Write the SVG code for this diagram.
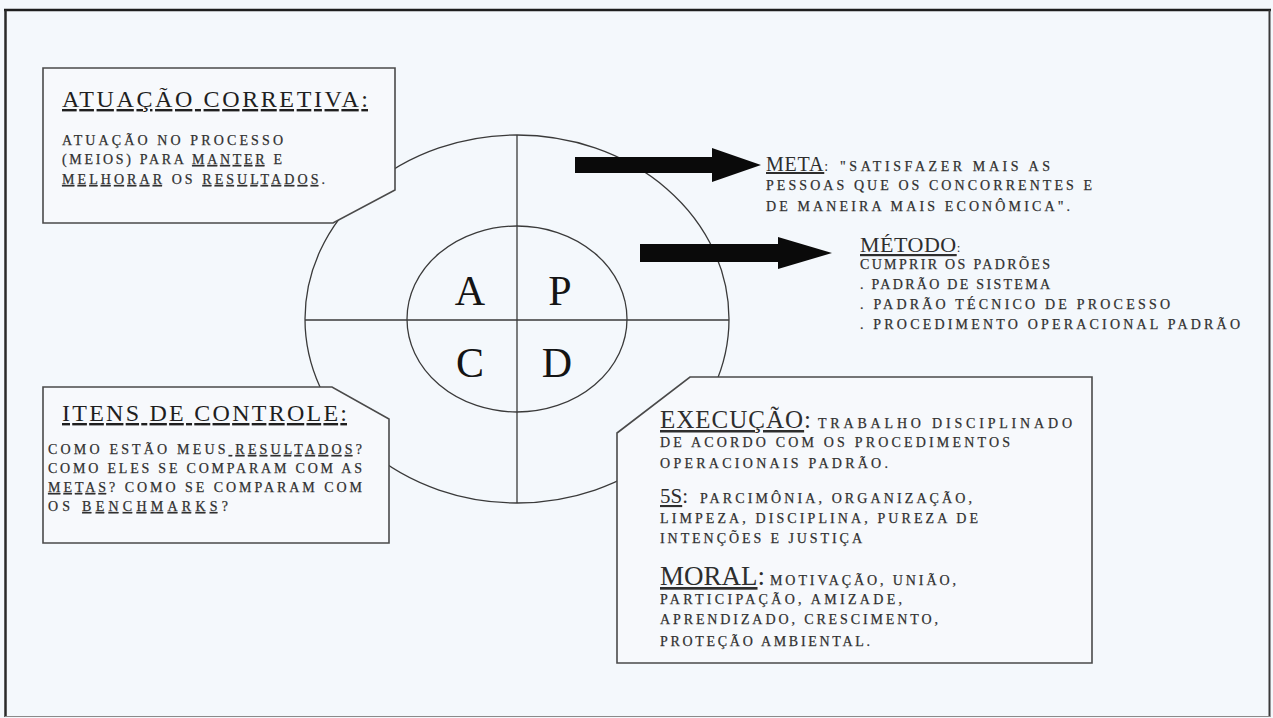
<svg xmlns="http://www.w3.org/2000/svg" width="1273" height="718" viewBox="0 0 1273 718">
  <style>
    .t { font-family: "Liberation Serif", "Times New Roman", serif; fill: #2e2e2e; }
    .b { font-size: 14px; stroke: #3a3a3a; stroke-width: 0.25; }
    .h { font-size: 24px; fill: #1f1f1f; }
    .big { font-size: 42px; fill: #141414; }
    .u { text-decoration: underline; }
    .wheel { fill: none; stroke: #3a3a3a; stroke-width: 1.3; }
    .box { fill: #f7f9fc; stroke: #4a4a4a; stroke-width: 1.6; }
    .arrow { fill: #0a0a0a; }
  </style>

  <!-- page -->
  <rect x="0" y="0" width="1273" height="718" fill="#f4f8fc"/>
  <g id="frame" fill="none">
    <line x1="4" y1="10" x2="1271" y2="10" stroke="#1e1e1e" stroke-width="2.5"/>
    <line x1="5.5" y1="10" x2="5.5" y2="717" stroke="#2a2a2a" stroke-width="2.5"/>
    <line x1="1269.5" y1="10" x2="1269.5" y2="717" stroke="#3a3a3a" stroke-width="2"/>
    <line x1="5" y1="716.5" x2="1270" y2="716.5" stroke="#8a8a8a" stroke-width="1.2"/>
  </g>

  <!-- PDCA wheel -->
  <g id="node-wheel">
    <ellipse class="wheel" cx="517" cy="319" rx="212" ry="184"/>
    <ellipse class="wheel" cx="517" cy="319" rx="110" ry="93"/>
    <line class="wheel" x1="517" y1="135" x2="517" y2="503"/>
    <line class="wheel" x1="305" y1="320" x2="729" y2="320"/>
    <text class="t big" x="470" y="305" text-anchor="middle">A</text>
    <text class="t big" x="560" y="305" text-anchor="middle">P</text>
    <text class="t big" x="470" y="377" text-anchor="middle">C</text>
    <text class="t big" x="557" y="377" text-anchor="middle">D</text>
  </g>

  <!-- Act -->
  <g id="node-atuacao">
    <path class="box" d="M43,68 H395 V190 L333,223 H43 Z"/>
    <text class="t h u" x="62" y="107" textLength="306" lengthAdjust="spacing">ATUAÇÃO CORRETIVA:</text>
    <text class="t b" x="62" y="145" textLength="221" lengthAdjust="spacing">ATUAÇÃO NO PROCESSO</text>
    <text class="t b" x="62" y="164" textLength="220" lengthAdjust="spacing">(MEIOS) PARA <tspan class="u">MANTER</tspan> E</text>
    <text class="t b" x="62" y="184" textLength="263" lengthAdjust="spacing"><tspan class="u">MELHORAR</tspan> OS <tspan class="u">RESULTADOS</tspan>.</text>
  </g>

  <!-- Check -->
  <g id="node-itens">
    <path class="box" d="M43,387 H332 L389,419 V543 H43 Z"/>
    <text class="t h u" x="62" y="421" textLength="285" lengthAdjust="spacing">ITENS DE CONTROLE:</text>
    <text class="t b" x="48" y="454" textLength="314" lengthAdjust="spacing">COMO ESTÃO MEUS<tspan class="u"> RESULTADOS</tspan>?</text>
    <text class="t b" x="48" y="473" textLength="314" lengthAdjust="spacing">COMO ELES SE COMPARAM COM AS</text>
    <text class="t b" x="48" y="492" textLength="314" lengthAdjust="spacing"><tspan class="u">METAS</tspan>? COMO SE COMPARAM COM</text>
    <text class="t b" x="48" y="511" textLength="180" lengthAdjust="spacing">OS <tspan class="u">BENCHMARKS</tspan>?</text>
  </g>

  <!-- Do -->
  <g id="node-execucao">
    <path class="box" d="M690,377 H1092 V663 H617 V433 Z"/>
    <text class="t" x="660" y="428" font-size="25" fill="#1f1f1f" letter-spacing="1"><tspan class="u">EXECUÇÃO</tspan>:</text>
    <text class="t b" x="818" y="428" textLength="254" lengthAdjust="spacing">TRABALHO DISCIPLINADO</text>
    <text class="t b" x="660" y="447" textLength="350" lengthAdjust="spacing">DE ACORDO COM OS PROCEDIMENTOS</text>
    <text class="t b" x="660" y="468" textLength="228" lengthAdjust="spacing">OPERACIONAIS PADRÃO.</text>
    <text class="t" x="660" y="503" font-size="21" fill="#1f1f1f"><tspan class="u">5S</tspan>:</text>
    <text class="t b" x="700" y="503" textLength="272" lengthAdjust="spacing">PARCIMÔNIA, ORGANIZAÇÃO,</text>
    <text class="t b" x="660" y="523" textLength="318" lengthAdjust="spacing">LIMPEZA, DISCIPLINA, PUREZA DE</text>
    <text class="t b" x="660" y="543" textLength="202" lengthAdjust="spacing">INTENÇÕES E JUSTIÇA</text>
    <text class="t" x="660" y="585" font-size="27" fill="#1f1f1f"><tspan class="u">MORAL</tspan>:</text>
    <text class="t b" x="770" y="585" textLength="186" lengthAdjust="spacing">MOTIVAÇÃO, UNIÃO,</text>
    <text class="t b" x="660" y="604" textLength="242" lengthAdjust="spacing">PARTICIPAÇÃO, AMIZADE,</text>
    <text class="t b" x="660" y="624" textLength="278" lengthAdjust="spacing">APRENDIZADO, CRESCIMENTO,</text>
    <text class="t b" x="660" y="646" textLength="210" lengthAdjust="spacing">PROTEÇÃO AMBIENTAL.</text>
  </g>

  <!-- Plan: goal -->
  <g id="node-meta">
    <text class="t" x="766" y="171" font-size="20" fill="#1f1f1f" letter-spacing="0.8"><tspan class="u">META</tspan><tspan font-size="14">:</tspan></text>
    <text class="t b" x="840" y="171" textLength="210" lengthAdjust="spacing">"SATISFAZER MAIS AS</text>
    <text class="t b" x="766" y="190" textLength="326" lengthAdjust="spacing">PESSOAS QUE OS CONCORRENTES E</text>
    <text class="t b" x="766" y="211" textLength="304" lengthAdjust="spacing">DE MANEIRA MAIS ECONÔMICA".</text>
  </g>

  <!-- Plan: method -->
  <g id="node-metodo">
    <text class="t" x="860" y="252" font-size="22" fill="#1f1f1f" letter-spacing="0.5"><tspan class="u">MÉTODO</tspan><tspan font-size="13">:</tspan></text>
    <text class="t b" x="860" y="269" textLength="190" lengthAdjust="spacing">CUMPRIR OS PADRÕES</text>
    <text class="t b" x="860" y="289" textLength="190" lengthAdjust="spacing">. PADRÃO DE SISTEMA</text>
    <text class="t b" x="860" y="309" textLength="310" lengthAdjust="spacing">. PADRÃO TÉCNICO DE PROCESSO</text>
    <text class="t b" x="860" y="329" textLength="380" lengthAdjust="spacing">. PROCEDIMENTO OPERACIONAL PADRÃO</text>
  </g>

  <!-- arrows pointing to the plan items -->
  <g id="connectors">
    <polygon class="arrow" points="575,157 712,157 712,148 761,165 712,182 712,173 575,173"/>
    <polygon class="arrow" points="640,244 778,244 778,237 832,253 778,269 778,262 640,262"/>
  </g>
</svg>
